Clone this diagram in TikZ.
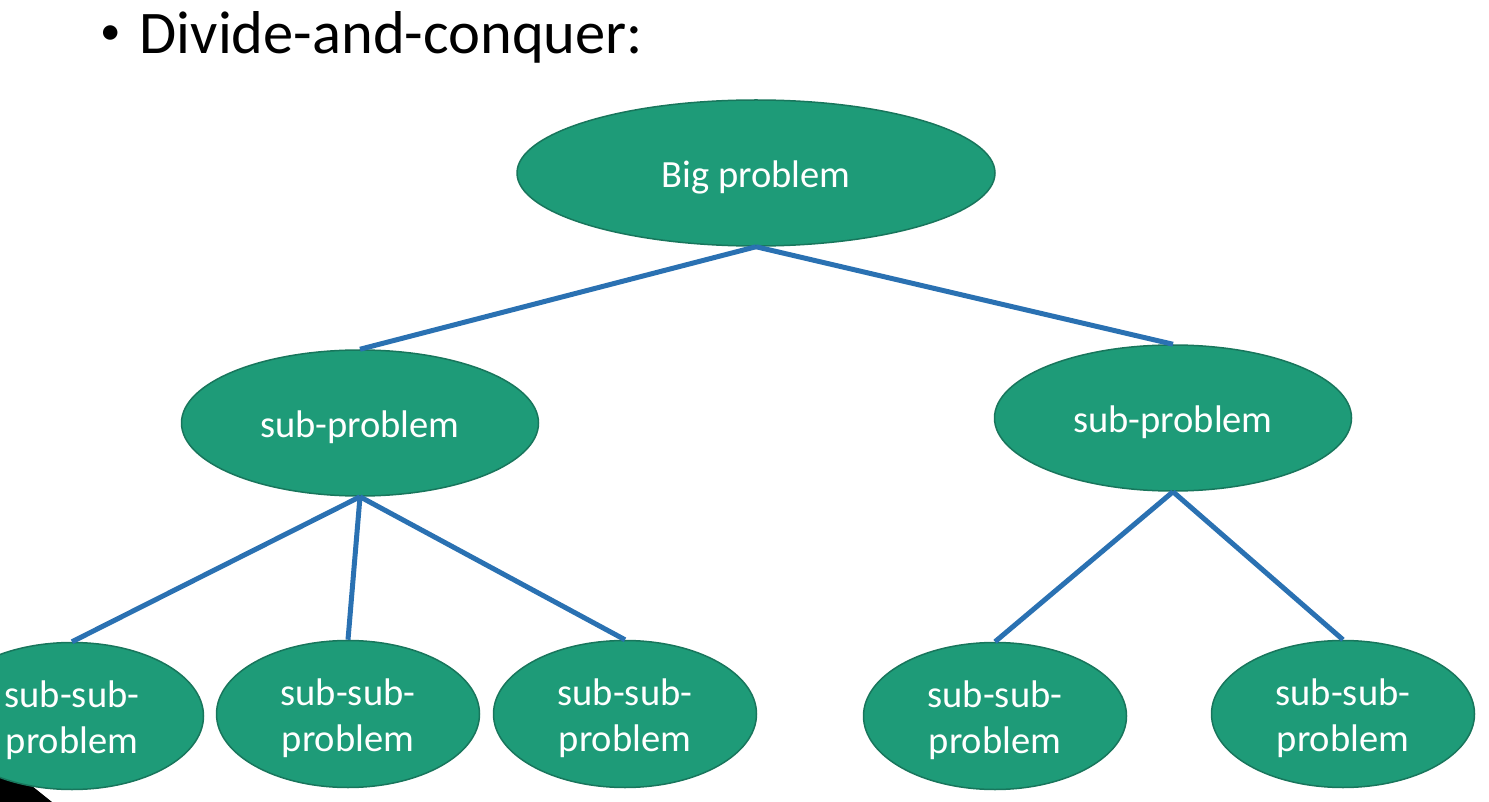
\documentclass[tikz,border=0pt]{standalone}
\usepackage{fontspec}
\setmainfont{Carlito}
\usetikzlibrary{shapes.geometric}
\definecolor{probfill}{RGB}{30,155,120}
\definecolor{probline}{RGB}{24,118,92}
\definecolor{edgeblue}{RGB}{42,113,178}
\newcommand{\sink}[1]{\raisebox{-4pt}[\height][\depth]{#1}}
\tikzset{
  prob/.style={ellipse, draw=probline, line width=1.5pt, fill=probfill,
    text=white, inner sep=0pt, align=center,
    font=\fontsize{38.5}{46}\selectfont},
  big/.style={prob, minimum width=478pt, minimum height=146pt},
  sub/.style={prob, minimum width=357pt, minimum height=146pt},
  subsub/.style={prob, minimum width=263pt, minimum height=147pt},
  link/.style={edgeblue, line width=5pt}
}
\begin{document}
\begin{tikzpicture}[x=1pt,y=-1pt]
      \useasboundingbox (0,0) rectangle (1489,802);
      \fill (0,768) -- (32,786) -- (52,802) -- (0,802) -- cycle;
      \node[anchor=base west, inner sep=0pt, font=\fontsize{60.5}{60.5}\selectfont]
        (title) at (100,54)
        {{\fontsize{41}{41}\selectfont\raisebox{9pt}{•}}\hspace{19pt}Divide-and-conquer:};
      \draw
        (756,173) node[big] (0){\sink{Big problem}}
        (360,423) node[sub] (1){\sink{sub-problem}}
        (1173,418) node[sub] (2){\sink{sub-problem}}
        (72,716) node[subsub] (3){\sink{sub-sub-}\\\sink{problem}}
        (348,714) node[subsub] (4){\sink{sub-sub-}\\\sink{problem}}
        (625,714) node[subsub] (5){\sink{sub-sub-}\\\sink{problem}}
        (995,716) node[subsub] (6){\sink{sub-sub-}\\\sink{problem}}
        (1343,714) node[subsub] (7){\sink{sub-sub-}\\\sink{problem}};
      \begin{scope}[link]
        \draw (0.south) to (1.north);
        \draw (0.south) to (2.north);
        \draw (1.south) to (3.north);
        \draw (1.south) to (4.north);
        \draw (1.south) to (5.north);
        \draw (2.south) to (6.north);
        \draw (2.south) to (7.north);
      \end{scope}
    \end{tikzpicture}
\end{document}
